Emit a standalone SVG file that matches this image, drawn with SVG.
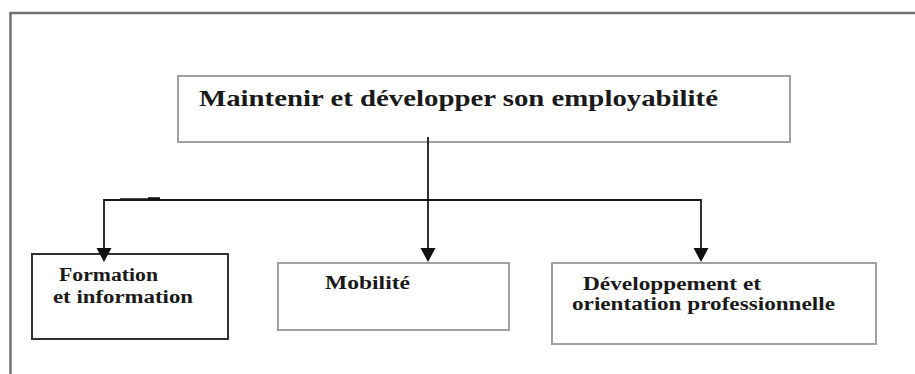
<svg xmlns="http://www.w3.org/2000/svg" width="915" height="374" viewBox="0 0 915 374">
<style>
.t{font-family:"Liberation Serif","Times New Roman",serif;font-weight:bold;fill:#1a1a1a}
.light{fill:#fff;stroke:#a0a0a0;stroke-width:2}
.dark{fill:#fff;stroke:#333;stroke-width:2}
.ln{fill:none;stroke:#1a1a1a;stroke-width:1.8}
.ah{fill:#111}
</style>
<defs>
<path id="head" d="M-7.5,-14 L7.5,-14 L0,0 z"/>
</defs>
<rect width="915" height="374" fill="#fff"/>
<path d="M10.5,374 L10.5,13 L915,13" fill="none" stroke="#707070" stroke-width="2.5"/>
<g id="top">
<rect class="light" x="178" y="76" width="612" height="66"/>
<text class="t" x="199" y="106" font-size="24" textLength="519" lengthAdjust="spacingAndGlyphs">Maintenir et développer son employabilité</text>
</g>
<g id="formation">
<rect class="dark" x="32" y="254" width="196" height="85"/>
<text class="t" x="59" y="281" font-size="18" textLength="99" lengthAdjust="spacingAndGlyphs">Formation</text>
<text class="t" x="53" y="303" font-size="18" textLength="140" lengthAdjust="spacingAndGlyphs">et information</text>
</g>
<g id="mobilite">
<rect class="light" x="278" y="263" width="231" height="67"/>
<text class="t" x="325" y="289" font-size="18" textLength="85" lengthAdjust="spacingAndGlyphs">Mobilité</text>
</g>
<g id="developpement">
<rect class="light" x="552" y="263" width="324" height="81"/>
<text class="t" x="583" y="290" font-size="18" textLength="178" lengthAdjust="spacingAndGlyphs">Développement et</text>
<text class="t" x="572" y="310" font-size="18" textLength="263" lengthAdjust="spacingAndGlyphs">orientation professionnelle</text>
</g>
<g id="connectors">
<line class="ln" x1="428" y1="137" x2="428" y2="250"/>
<path class="ln" d="M104,250 L104,200 L701,200 L701,250"/>
<use href="#head" class="ah" x="428" y="262"/>
<use href="#head" class="ah" x="104" y="262"/>
<use href="#head" class="ah" x="701" y="262"/>
<line x1="120" y1="199" x2="160" y2="199" stroke="#1a1a1a" stroke-width="1.5"/>
<line x1="148" y1="198.5" x2="160" y2="198.5" stroke="#111" stroke-width="2.5"/>
</g>
</svg>
